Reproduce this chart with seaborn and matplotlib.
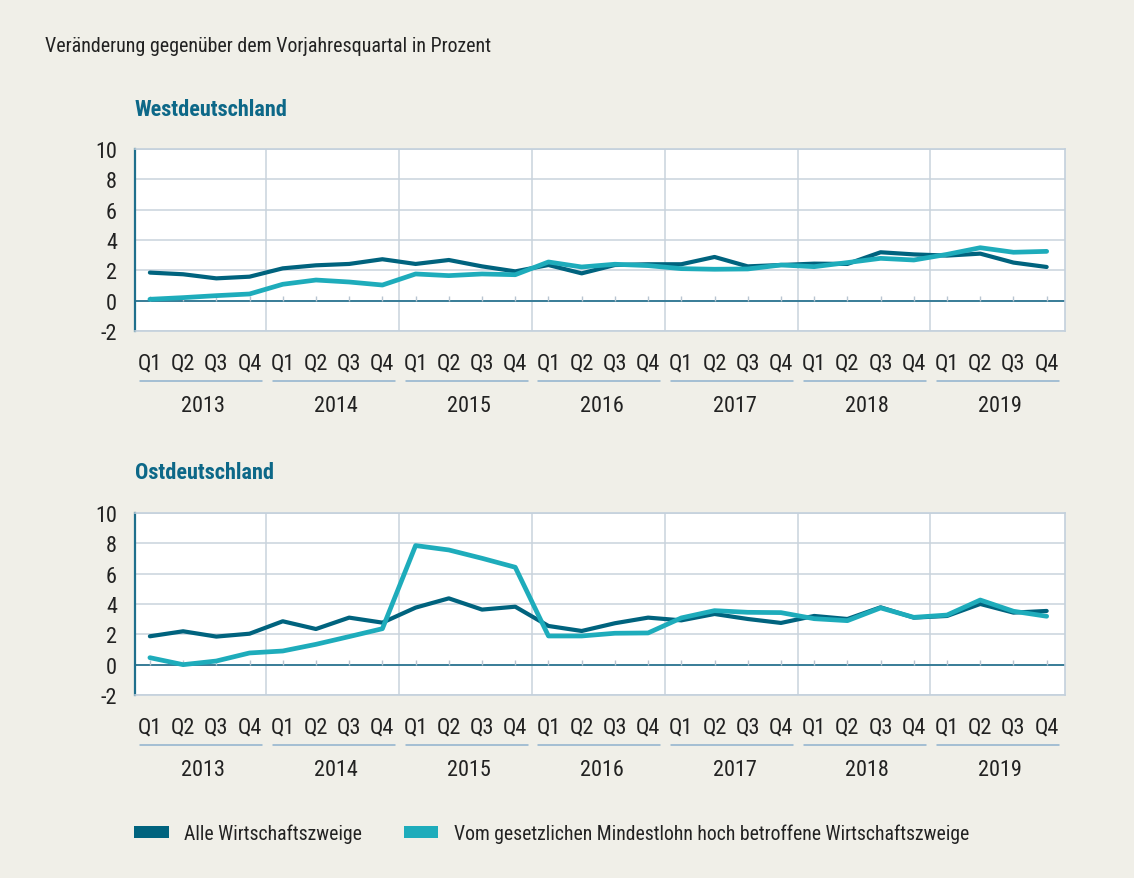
import numpy as np
import pandas as pd
import matplotlib
matplotlib.use("Agg")
import matplotlib.pyplot as plt
import matplotlib.transforms as mtransforms
from matplotlib.patches import Patch
from matplotlib import font_manager as fm
import seaborn as sns

years = ["2013", "2014", "2015", "2016", "2017", "2018", "2019"]
quarters = ["Q1", "Q2", "Q3", "Q4"]
series_names = ["Alle Wirtschaftszweige",
                "Vom gesetzlichen Mindestlohn hoch betroffene Wirtschaftszweige"]

west_alle = [1.85, 1.74, 1.47, 1.58, 2.13, 2.33, 2.42, 2.73, 2.42, 2.68, 2.26, 1.93,
             2.35, 1.80, 2.35, 2.40, 2.40, 2.88, 2.26, 2.35, 2.44, 2.42, 3.19, 3.05,
             2.97, 3.10, 2.51, 2.22]
west_mindest = [0.09, 0.20, 0.33, 0.44, 1.08, 1.36, 1.23, 1.03, 1.76, 1.65, 1.76, 1.71,
                2.55, 2.22, 2.40, 2.31, 2.11, 2.07, 2.09, 2.35, 2.24, 2.51, 2.79, 2.68,
                3.05, 3.49, 3.19, 3.25]
ost_alle = [1.87, 2.20, 1.85, 2.04, 2.86, 2.35, 3.10, 2.77, 3.76, 4.37, 3.63, 3.82,
            2.55, 2.22, 2.73, 3.10, 2.92, 3.34, 3.01, 2.75, 3.21, 3.01, 3.78, 3.10,
            3.21, 4.00, 3.43, 3.54]
ost_mindest = [0.46, 0.00, 0.24, 0.77, 0.90, 1.34, 1.85, 2.37, 7.85, 7.56, 7.01, 6.42,
               1.89, 1.89, 2.07, 2.09, 3.08, 3.56, 3.45, 3.43, 3.03, 2.90, 3.74, 3.12,
               3.27, 4.26, 3.52, 3.19]
panel_titles = ["Westdeutschland", "Ostdeutschland"]
y_ticks = [-2, 0, 2, 4, 6, 8, 10]
subtitle = "Veränderung gegenüber dem Vorjahresquartal in Prozent"

DARK = "#00637e"
LIGHT = "#1eacbb"
TITLE_C = "#0d6888"
BG = "#f0efe8"
GRID = "#c9d3dd"
TXT = "#222222"

sns.set_theme(style="white")


def pick_condensed():
    narrow_words = ("Narrow", "Condensed", "Cond")
    cstretch = ("condensed", "semi-condensed", "extra-condensed", "ultra-condensed")
    prefs = ["Roboto Condensed", "Liberation Sans Narrow", "Open Sans Condensed",
             "Noto Sans", "DejaVu Sans", "Open Sans", "Roboto", "Lato", "Inter"]
    found = []
    for f in fm.fontManager.ttflist:
        st = f.stretch
        is_cond = any(w in f.name for w in narrow_words)
        if isinstance(st, str) and st in cstretch:
            is_cond = True
        if isinstance(st, (int, float)) and st < 500:
            is_cond = True
        if is_cond:
            found.append(f)
    for pref in prefs:
        for f in found:
            if f.name == pref:
                return f.name, f.stretch
    if found:
        return found[0].name, found[0].stretch
    return None, None


cname, cstretch = pick_condensed()
if cname is not None:
    plt.rcParams['font.family'] = [cname, 'DejaVu Sans']
    plt.rcParams['font.stretch'] = cstretch
    FS = 14.4
    FS_T = 16
    FS_L = 14.2
else:
    plt.rcParams['font.family'] = ['Liberation Sans', 'DejaVu Sans']
    FS = FS_T = FS_L = 12.5

fig = plt.figure(figsize=(11.34, 8.79), dpi=100, facecolor=BG)

n = len(years) * len(quarters)
idx = np.arange(n)
panels = [(west_alle, west_mindest), (ost_alle, ost_mindest)]
rects = [[0.1190, 0.6223, 0.8201, 0.2071], [0.1190, 0.2082, 0.8201, 0.2071]]
title_y = [110, 473]

for p, ((alle, mindest), rect) in enumerate(zip(panels, rects)):
    ax = fig.add_axes(rect)
    ax.set_facecolor("white")
    df = pd.DataFrame({
        "i": np.concatenate([idx, idx]),
        "v": alle + mindest,
        "s": [series_names[0]] * n + [series_names[1]] * n,
    })
    ax.axhline(0, color="#2c7592", lw=1.3, zorder=2)
    ax.vlines(idx, 0, 0.33, color="#b9c5d1", lw=1.0, zorder=2)
    sns.lineplot(data=df[df.s == series_names[0]], x="i", y="v", color=DARK, lw=3.0,
                 ax=ax, legend=False, zorder=4)
    sns.lineplot(data=df[df.s == series_names[1]], x="i", y="v", color=LIGHT, lw=3.4,
                 ax=ax, legend=False, zorder=5)
    ax.set_xlim(-0.45, n - 1 + 0.55)
    ax.set_ylim(-2, 10)
    ax.set_yticks(y_ticks)
    ax.set_yticklabels([str(t) for t in y_ticks], fontsize=FS_T, color=TXT)
    ax.set_xticks(np.arange(3.5, n - 1, 4))
    ax.set_xticklabels([])
    ax.tick_params(axis="both", length=0)
    ax.tick_params(axis="y", pad=13)
    ax.grid(True, color=GRID, lw=1.1)
    ax.set_axisbelow(True)
    ax.set_xlabel("")
    ax.set_ylabel("")
    for s in ax.spines.values():
        s.set_color("#c3d0dc")
        s.set_linewidth(1.2)
    ax.spines["left"].set_color("#1f6f8c")
    ax.spines["left"].set_linewidth(1.6)

    trans = mtransforms.blended_transform_factory(ax.transData, ax.transAxes)
    for k in range(n):
        ax.text(k, -0.177, quarters[k % 4], transform=trans, ha="center", va="center",
                fontsize=FS_T, color=TXT, clip_on=False)
    for y_i, yr in enumerate(years):
        start = y_i * 4
        ax.plot([start - 0.3, start + 3.37], [-0.275, -0.275], transform=trans,
                color="#8fb1cd", lw=1.1, clip_on=False)
        ax.text(start + 1.6, -0.41, yr, transform=trans, ha="center", va="center",
                fontsize=FS_T, color=TXT, clip_on=False)

    fig.text(135 / 1134, 1 - title_y[p] / 879, panel_titles[p], ha="left", va="center",
             fontsize=FS_T, fontweight="bold", color=TITLE_C)

fig.text(45 / 1134, 1 - 46 / 879, subtitle, ha="left", va="center", fontsize=FS, color=TXT)

handles = [Patch(facecolor=DARK, edgecolor="none"), Patch(facecolor=LIGHT, edgecolor="none")]
fig.legend(handles, series_names, loc="center left", bbox_to_anchor=(134 / 1134, 1 - 834 / 879),
           ncol=2, frameon=False, fontsize=FS_L, handlelength=1.75, handleheight=0.6,
           handletextpad=0.8, columnspacing=2.1, borderpad=0, borderaxespad=0,
           labelcolor=TXT)

fig.savefig("out.png", dpi=100, facecolor=BG)
